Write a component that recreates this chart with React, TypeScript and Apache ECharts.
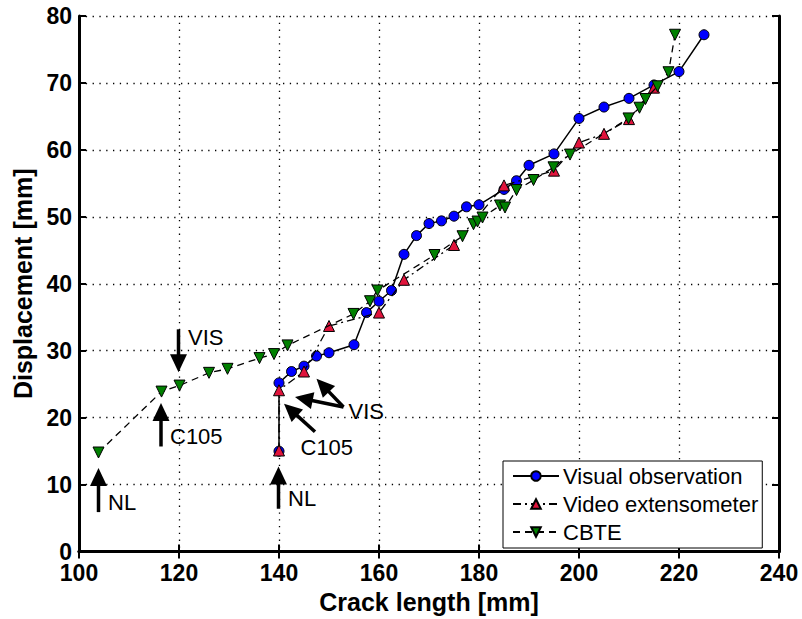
import React, { useEffect, useRef } from "react";
import * as echarts from "echarts";

// Visual observation (blue circles, solid line)
const visualX = [140, 140, 142.5, 145, 147.5, 150, 155, 157.5, 160, 162.5, 165, 167.5, 170, 172.5, 175, 177.5, 180, 185, 187.5, 190, 195, 200, 205, 210, 215, 220, 225];
const visualY = [15, 25.2, 26.9, 27.7, 29.2, 29.7, 30.9, 35.7, 37.4, 39.0, 44.4, 47.2, 49.0, 49.4, 50.1, 51.5, 51.8, 54.1, 55.4, 57.7, 59.4, 64.7, 66.4, 67.7, 69.7, 71.7, 77.2];

// Video extensometer (red triangles, dash-dot line)
const videoX = [140, 140, 145, 150, 160, 165, 175, 185, 195, 200, 205, 210, 215];
const videoY = [15.1, 24.1, 26.9, 33.7, 35.7, 40.6, 45.8, 54.7, 56.9, 61.1, 62.4, 64.6, 69.3];

// CBTE (green down triangles, dashed line)
const cbteX = [103.9, 116.5, 120.1, 126, 129.7, 136.1, 139, 141.7, 154.9, 158.2, 159.7, 171.1, 176.7, 178.9, 179.7, 180.7, 184.2, 185.2, 187.5, 190.9, 194.9, 198.2, 209.9, 212.1, 213.3, 215.7, 217.9, 219.2];
const cbteY = [14.8, 23.9, 24.8, 26.7, 27.3, 28.9, 29.5, 30.8, 35.5, 37.4, 39.0, 44.3, 47.1, 48.9, 49.3, 49.9, 51.7, 51.4, 54.0, 55.5, 57.4, 59.3, 64.7, 66.3, 67.6, 69.5, 71.6, 77.2];

const seriesNames = ["Visual observation", "Video extensometer", "CBTE"];

// Annotation arrows: [tailX, tailY, tipX, tipY] in data units
const arrowTailX = [103.9, 116.4, 119.9, 139.9, 147.2, 152.9, 152.9];
const arrowTailY = [5.9, 15.7, 33.2, 6.4, 17.9, 21.6, 21.6];
const arrowTipX = [103.9, 116.4, 119.9, 139.9, 141.0, 143.2, 147.5];
const arrowTipY = [12.5, 22.2, 26.8, 12.7, 22.1, 23.1, 25.8];

// Annotation texts
const noteLabels = ["VIS", "C105", "NL", "NL", "C105", "VIS"];
const noteX = [121.8, 118.2, 105.8, 141.8, 144.3, 153.9];
const noteY = [32.0, 17.2, 7.4, 8.0, 15.5, 20.9];

const FONT = '"Liberation Sans", Arial, Helvetica, sans-serif';

export default function App() {
  const ref = useRef<HTMLDivElement>(null);

  useEffect(() => {
    document.body.style.margin = "0";
    if (!ref.current) return;
    const chart = echarts.init(ref.current, undefined, { renderer: "svg" });

    const axisLine = { show: true, lineStyle: { color: "#000", width: 3 } };
    const axisTick = { show: true, inside: true, length: 7, lineStyle: { color: "#000", width: 2 } };
    const splitLine = { show: true, lineStyle: { color: "#000", width: 1.3, type: [1.3, 5.5] } };
    const axisLabel = { color: "#000", fontSize: 23, fontWeight: "bold", fontFamily: FONT, lineHeight: 16 };

    const option: any = {
      animation: false,
      backgroundColor: "#fff",
      grid: { left: 79, right: 23, top: 16, bottom: 63, containLabel: false },
      xAxis: [
        {
          type: "value", min: 100, max: 240, interval: 20, position: "bottom",
          axisLine, axisTick, splitLine,
          axisLabel: { ...axisLabel, margin: 13 },
          name: "Crack length [mm]", nameLocation: "middle", nameGap: 33,
          nameTextStyle: { color: "#000", fontSize: 25, fontWeight: "bold", fontFamily: FONT },
        },
        {
          type: "value", min: 100, max: 240, interval: 20, position: "top",
          axisLine, axisTick, splitLine: { show: false }, axisLabel: { show: false },
        },
      ],
      yAxis: [
        {
          type: "value", min: 0, max: 80, interval: 10, position: "left",
          axisLine, axisTick, splitLine,
          axisLabel: { ...axisLabel, margin: 7, padding: [0, 0, 1, 0] },
          name: "Displacement [mm]", nameLocation: "middle", nameGap: 42,
          nameTextStyle: { color: "#000", fontSize: 25, fontWeight: "bold", fontFamily: FONT },
        },
        {
          type: "value", min: 0, max: 80, interval: 10, position: "right",
          axisLine, axisTick, splitLine: { show: false }, axisLabel: { show: false },
        },
      ],
      legend: {
        data: seriesNames,
        orient: "vertical",
        left: 503,
        top: 461,
        padding: [4, 4, 5, 9],
        itemGap: 6,
        itemWidth: 46,
        itemHeight: 12,
        backgroundColor: "#fff",
        borderColor: "#000",
        borderWidth: 1,
        borderRadius: 0,
        textStyle: { color: "#000", fontSize: 22, fontFamily: FONT, lineHeight: 22, padding: [0, 0, 0, -1] },
      },
      series: [
        {
          name: seriesNames[0], type: "line",
          data: visualX.map((x, i) => [x, visualY[i]]),
          symbol: "circle", symbolSize: 10, showAllSymbol: true,
          itemStyle: { color: "#0000ff", borderColor: "#000", borderWidth: 1 },
          lineStyle: { color: "#000", width: 1.5, type: "solid" },
          z: 3,
        },
        {
          name: seriesNames[1], type: "line",
          data: videoX.map((x, i) => [x, videoY[i]]),
          symbol: "triangle", symbolSize: 11, showAllSymbol: true,
          itemStyle: { color: "#e0143c", borderColor: "#000", borderWidth: 1 },
          lineStyle: { color: "#000", width: 1.3, type: [8, 4, 2, 4] },
          z: 4,
        },
        {
          name: seriesNames[2], type: "line",
          data: cbteX.map((x, i) => [x, cbteY[i]]),
          symbol: "triangle", symbolRotate: 180, symbolSize: 11, showAllSymbol: true,
          itemStyle: { color: "#008000", borderColor: "#000", borderWidth: 1 },
          lineStyle: { color: "#000", width: 1.3, type: [7, 5] },
          z: 5,
        },
        {
          type: "custom", name: "arrows", clip: false, z: 6, silent: true,
          data: arrowTailX.map((x, i) => [x, arrowTailY[i], arrowTipX[i], arrowTipY[i]]),
          encode: { x: [0, 2], y: [1, 3] },
          renderItem: (_params: any, api: any) => {
            const p1 = api.coord([api.value(0), api.value(1)]);
            const p2 = api.coord([api.value(2), api.value(3)]);
            const dx = p2[0] - p1[0];
            const dy = p2[1] - p1[1];
            const len = Math.hypot(dx, dy) || 1;
            const ux = dx / len;
            const uy = dy / len;
            const hl = 18;
            const hw = 8.5;
            const bx = p2[0] - ux * hl;
            const by = p2[1] - uy * hl;
            return {
              type: "group",
              children: [
                {
                  type: "line",
                  shape: { x1: p1[0], y1: p1[1], x2: bx + ux * 2, y2: by + uy * 2 },
                  style: { stroke: "#000", lineWidth: 3.5 },
                },
                {
                  type: "polygon",
                  shape: { points: [[p2[0], p2[1]], [bx - uy * hw, by + ux * hw], [bx + uy * hw, by - ux * hw]] },
                  style: { fill: "#000" },
                },
              ],
            };
          },
        },
        {
          type: "custom", name: "notes", clip: false, z: 6, silent: true,
          data: noteX.map((x, i) => [x, noteY[i]]),
          encode: { x: 0, y: 1 },
          renderItem: (params: any, api: any) => {
            const p = api.coord([api.value(0), api.value(1)]);
            return {
              type: "text",
              x: p[0],
              y: p[1],
              style: {
                text: noteLabels[params.dataIndex],
                fill: "#000",
                fontSize: 22,
                fontFamily: FONT,
                align: "left",
                verticalAlign: "middle",
              },
            };
          },
        },
      ],
    };

    chart.setOption(option);
    return () => chart.dispose();
  }, []);

  return (
    <div
      ref={ref}
      style={{ position: "absolute", left: 0, top: 0, width: 802, height: 619, background: "#fff" }}
    />
  );
}
